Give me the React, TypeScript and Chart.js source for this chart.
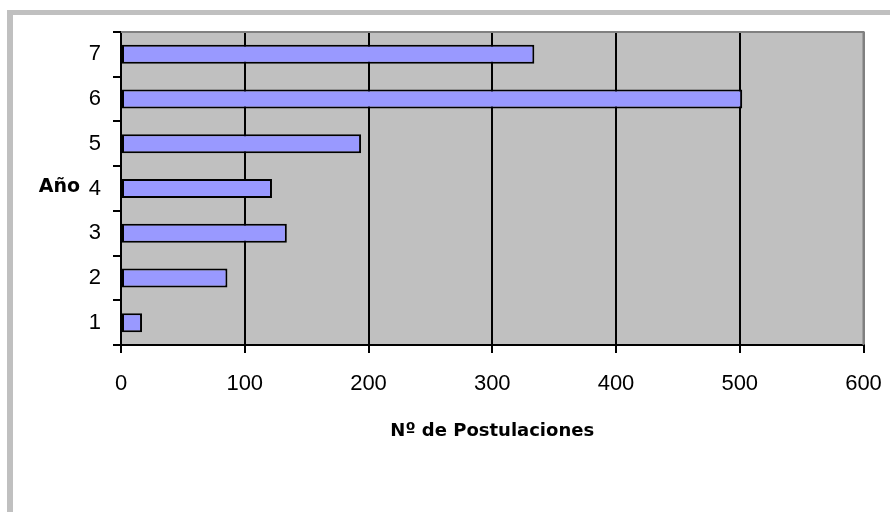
import React, { useEffect, useRef } from "react";
import { Chart, registerables } from "chart.js";

Chart.register(...registerables);

const categories = ["1", "2", "3", "4", "5", "6", "7"];
const postulaciones = [17, 86, 134, 122, 194, 502, 334];
const xTicks = [0, 100, 200, 300, 400, 500, 600];
const yTitle = "Año";
const xTitle = "Nº de Postulaciones";

export default function App() {
  const ref = useRef<HTMLCanvasElement | null>(null);

  useEffect(() => {
    if (!ref.current) return;
    const plotDeco = {
      id: "plotDeco",
      beforeDraw(chart: any) {
        const { ctx, chartArea } = chart;
        ctx.save();
        ctx.fillStyle = "#C0C0C0";
        ctx.fillRect(chartArea.left, chartArea.top, chartArea.right - chartArea.left, chartArea.bottom - chartArea.top);
        ctx.restore();
      },
      afterDraw(chart: any) {
        const { ctx, chartArea } = chart;
        ctx.save();
        ctx.strokeStyle = "#808080";
        ctx.lineWidth = 2;
        ctx.beginPath();
        ctx.moveTo(chartArea.left, chartArea.top);
        ctx.lineTo(chartArea.right, chartArea.top);
        ctx.lineTo(chartArea.right, chartArea.bottom);
        ctx.stroke();
        const yScale = chart.scales.y;
        const yc = yScale.getPixelForValue(3);
        ctx.fillStyle = "#000";
        ctx.font = "bold 19px 'DejaVu Sans'";
        ctx.textAlign = "right";
        ctx.textBaseline = "middle";
        ctx.fillText(yTitle, 80, yc - 1);
        ctx.restore();
      },
    };

    const chart = new Chart(ref.current, {
      type: "bar",
      data: {
        labels: categories,
        datasets: [
          {
            data: postulaciones,
            backgroundColor: "#9999FF",
            borderColor: "#000000",
            borderWidth: 2,
            borderSkipped: false,
            categoryPercentage: 1,
            barPercentage: 0.425,
          },
        ],
      },
      options: {
        indexAxis: "y",
        animation: false,
        responsive: false,
        maintainAspectRatio: false,
        layout: { padding: { top: 32, right: 26.5, left: 0, bottom: 0 } },
        plugins: { legend: { display: false }, tooltip: { enabled: false } },
        scales: {
          x: {
            min: 0,
            max: 600,
            afterBuildTicks: (scale: any) => {
              scale.ticks = xTicks.map((v) => ({ value: v }));
            },
            afterFit: (scale: any) => {
              scale.height = 167;
              scale.paddingLeft = 0;
              scale.paddingRight = 0;
            },
            grid: {
              color: (c: any) => (c.tick && c.tick.value === 600 ? "#808080" : "#000000"),
              lineWidth: 2,
              tickColor: "#000000",
              tickLength: 8,
            },
            border: { color: "#000000", width: 2 },
            ticks: {
              color: "#000",
              font: { family: "Liberation Sans", size: 22 },
              padding: 18,
              maxRotation: 0,
            },
            title: {
              display: true,
              text: xTitle,
              color: "#000",
              font: { family: "DejaVu Sans", size: 18, weight: "bold" },
              padding: { top: 0, bottom: 70 },
            },
          },
          y: {
            reverse: true,
            afterFit: (scale: any) => {
              scale.width = 121;
              scale.paddingTop = 0;
              scale.paddingBottom = 0;
            },
            grid: {
              display: true,
              drawOnChartArea: false,
              offset: true,
              color: "#000000",
              lineWidth: 2,
              tickLength: 8,
            },
            border: { color: "#000000", width: 2 },
            ticks: {
              color: "#000",
              font: { family: "Liberation Sans", size: 22 },
              padding: 12,
            },
          },
        },
      },
      plugins: [plotDeco],
    });
    return () => chart.destroy();
  }, []);

  return (
    <div style={{ position: "fixed", left: 0, top: 0, width: 890, height: 512, overflow: "hidden", background: "#fff" }}>
      <div
        style={{
          position: "absolute",
          left: 7,
          top: 10,
          width: 900,
          height: 520,
          borderLeft: "6px solid #C0C0C0",
          borderTop: "5px solid #C0C0C0",
          boxSizing: "border-box",
        }}
      />
      <canvas ref={ref} width={890} height={512} style={{ position: "absolute", left: 0, top: 0, width: 890, height: 512 }} />
    </div>
  );
}
